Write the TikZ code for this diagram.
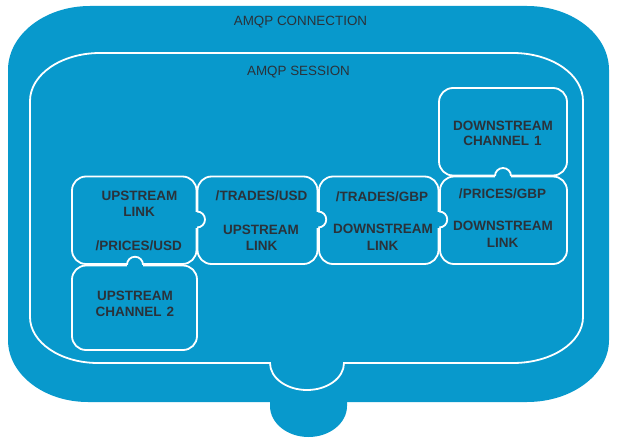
\documentclass[tikz,border=0pt]{standalone}
\usepackage{fontspec}
\setmainfont{Liberation Sans}
\definecolor{amqp}{RGB}{8,153,204}
\definecolor{ink}{RGB}{42,50,58}
\begin{document}
\begin{tikzpicture}[x=1pt,y=-1pt,
  wline/.style={draw=white,line width=1.8pt},
  box/.style={wline,rounded corners=14pt,inner sep=0pt,outer sep=0pt},
  erase/.style={draw=amqp,line width=4.5pt},
  lbl/.style={font=\fontsize{13.5}{16}\selectfont\bfseries,text=ink,inner sep=0pt,text height=9.7pt,text depth=0pt},
  ttl/.style={font=\fontsize{13.4}{16}\selectfont,text=ink,inner sep=0pt,text height=9.6pt,text depth=0pt}]
\useasboundingbox (0,0) rectangle (618,441);
% AMQP connection (outer body and bottom tab)
\fill[amqp] (90,6) -- (527,6) arc[start angle=-90,end angle=0,x radius=82,y radius=64]
  -- (609,340) arc[start angle=0,end angle=90,x radius=82,y radius=62]
  -- (88,402) arc[start angle=90,end angle=180,x radius=80,y radius=62]
  -- (8,70) arc[start angle=180,end angle=270,x radius=82,y radius=64] -- cycle;
\fill[amqp] (270,396) -- (270,406) arc[start angle=180,end angle=0,x radius=38.5,y radius=31] -- (347,396) -- cycle;
% AMQP session
\draw[wline] (100,53) -- (513,53) arc[start angle=-90,end angle=0,x radius=70,y radius=48]
  -- (583,317) arc[start angle=0,end angle=90,x radius=70,y radius=46]
  -- (344,363) arc[start angle=0,end angle=180,x radius=37,y radius=27]
  -- (98,363) arc[start angle=90,end angle=180,x radius=68,y radius=46]
  -- (30,101) arc[start angle=180,end angle=270,x radius=70,y radius=48] -- cycle;
% puzzle boxes
\node[box,minimum width=128pt,minimum height=87.5pt] (ch1) at (503,131.75) {};
\node[box,minimum width=124.5pt,minimum height=87.5pt] (ul) at (134.25,220.25) {};
\node[box,minimum width=120pt,minimum height=87.5pt] (tu) at (257.5,220.25) {};
\node[box,minimum width=119.5pt,minimum height=87.5pt] (tg) at (378.75,220.25) {};
\node[box,minimum width=127pt,minimum height=87.5pt] (pg) at (503.5,220.25) {};
\node[box,minimum width=125pt,minimum height=84.5pt] (ch2) at (134.5,307.75) {};
% bumps
\draw[erase] (197,211.5) -- (197,227.5);
\draw[erase] (318.25,211.5) -- (318.25,227.5);
\draw[erase] (439.25,211.5) -- (439.25,227.5);
\draw[erase] (127,264.75) -- (143,264.75);
\draw[erase] (495,176) -- (511,176);
\draw[wline] (197,211.5) arc[start angle=-90,end angle=90,radius=8];
\draw[wline] (318.25,211.5) arc[start angle=-90,end angle=90,radius=8];
\draw[wline] (439.25,211.5) arc[start angle=-90,end angle=90,radius=8];
\draw[wline] (127,264.75) arc[start angle=180,end angle=360,radius=8];
\draw[wline] (495,176) arc[start angle=180,end angle=360,radius=8];
% titles
\node[ttl] (tconn) at (300.5,21) {AMQP CONNECTION};
\node[ttl] (tsess) at (298.5,70.5) {AMQP SESSION};
% labels
\node[lbl] (ul1) at (139.5,196) {UPSTREAM};
\node[lbl] (ul2) at (139,212) {LINK};
\node[lbl] (ul3) at (138.8,246) {/PRICES/USD};
\node[lbl] (ch21) at (135,296) {UPSTREAM};
\node[lbl] (ch22) at (135,312) {CHANNEL\hspace{5pt}2};
\node[lbl] (tu1) at (261.5,196) {/TRADES/USD};
\node[lbl] (tu2) at (261,229.5) {UPSTREAM};
\node[lbl] (tu3) at (261.5,246) {LINK};
\node[lbl] (tg1) at (382,196.5) {/TRADES/GBP};
\node[lbl] (tg2) at (383,229) {DOWNSTREAM};
\node[lbl] (tg3) at (382.5,245.5) {LINK};
\node[lbl] (pg1) at (502.5,193.5) {/PRICES/GBP};
\node[lbl] (pg2) at (503,226) {DOWNSTREAM};
\node[lbl] (pg3) at (502.5,243) {LINK};
\node[lbl] (ch11) at (503,125.5) {DOWNSTREAM};
\node[lbl] (ch12) at (502.5,141) {CHANNEL\hspace{5pt}1};
\end{tikzpicture}
\end{document}
